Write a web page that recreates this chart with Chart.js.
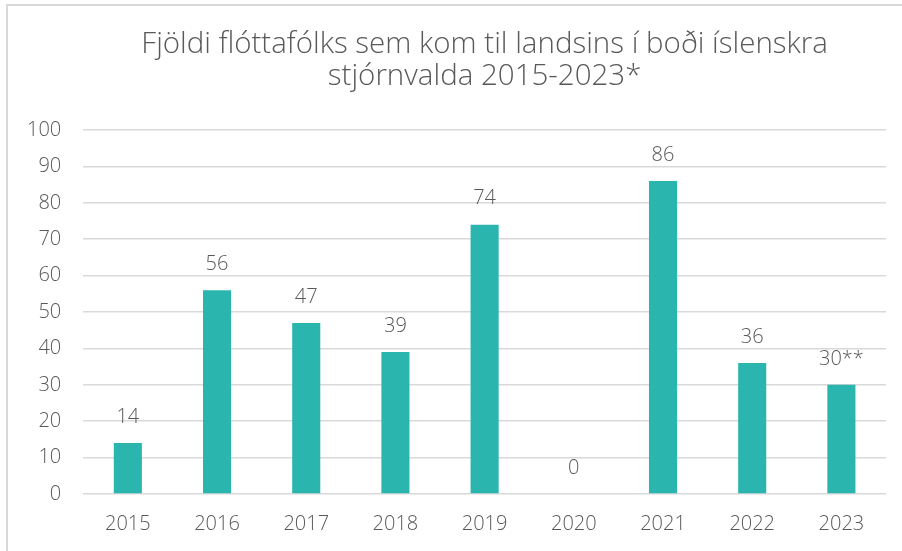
<!DOCTYPE html>
<html>
<head>
<meta charset="utf-8">
<script src="https://cdn.jsdelivr.net/npm/chart.js@4/dist/chart.umd.min.js"></script>
<style>
  body { margin: 0; overflow: hidden; background: #fff; }
  #frame { position: absolute; left: 6px; top: 4px; width: 1000px; height: 1000px; border: 2px solid #d9d9d9; }
  #wrap { position: absolute; left: 0; top: 0; width: 902px; height: 551px; }
</style>
</head>
<body>
<div id="frame"></div>
<div id="wrap"><canvas id="chart" width="902" height="551"></canvas></div>
<script>
const years = ["2015", "2016", "2017", "2018", "2019", "2020", "2021", "2022", "2023"];
const refugees = [14, 56, 47, 39, 74, 0, 86, 36, 30];
const valueLabels = ["14", "56", "47", "39", "74", "0", "86", "36", "30**"];
const yTicks = [0, 10, 20, 30, 40, 50, 60, 70, 80, 90, 100];
const titleLines = ["Fjöldi flóttafólks sem kom til landsins í boði íslenskra", "stjórnvalda 2015-2023*"];

const textColor = "#595959";
const fontFamily = "'Open Sans', Lato, sans-serif";

// writes the value above each bar
const barValues = {
  id: "barValues",
  afterDatasetsDraw: chart => {
    const ctx = chart.ctx;
    const meta = chart.getDatasetMeta(0);
    ctx.save();
    ctx.fillStyle = textColor;
    ctx.font = "300 20px " + fontFamily;
    ctx.textAlign = "center";
    ctx.textBaseline = "middle";
    meta.data.forEach((bar, i) => {
      ctx.fillText(valueLabels[i], bar.x, bar.y - 26);
    });
    ctx.restore();
  }
};

// title centred over the plot area, not the whole canvas
const plotTitle = {
  id: "plotTitle",
  afterDraw: chart => {
    const ctx = chart.ctx;
    const area = chart.chartArea;
    const cx = (area.left + area.right) / 2;
    ctx.save();
    ctx.fillStyle = textColor;
    ctx.font = "300 29.5px " + fontFamily;
    ctx.textAlign = "center";
    ctx.textBaseline = "middle";
    titleLines.forEach((line, i) => {
      ctx.fillText(line, cx, 45 + i * 32);
    });
    ctx.restore();
  }
};

const ctx = document.getElementById("chart").getContext("2d");
new Chart(ctx, {
  type: "bar",
  data: {
    labels: years,
    datasets: [
      {
        data: refugees,
        backgroundColor: "#2bb5af",
        barPercentage: 0.315,
        categoryPercentage: 1
      }
    ]
  },
  options: {
    responsive: false,
    animation: false,
    layout: { padding: { left: 5, right: 16, top: 130, bottom: 5 } },
    plugins: {
      legend: { display: false },
      tooltip: { enabled: false },
      title: { display: false }
    },
    scales: {
      x: {
        grid: { display: false },
        border: { display: false },
        ticks: {
          color: textColor,
          font: { family: fontFamily, size: 20, weight: "300" },
          padding: 10
        }
      },
      y: {
        min: 0,
        max: 100,
        afterBuildTicks: axis => {
          axis.ticks = yTicks.map(v => ({ value: v }));
        },
        grid: { color: "#d9d9d9", lineWidth: 1.5, drawTicks: false },
        border: { display: false },
        ticks: {
          color: textColor,
          font: { family: fontFamily, size: 20, weight: "300" },
          padding: 22
        }
      }
    }
  },
  plugins: [barValues, plotTitle]
});
</script>
</body>
</html>
